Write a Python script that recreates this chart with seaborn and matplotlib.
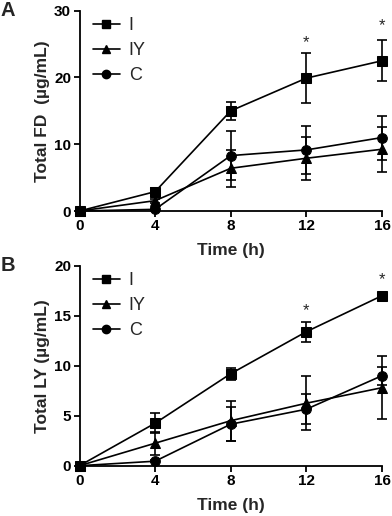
import matplotlib
matplotlib.use("Agg")
import matplotlib.pyplot as plt
import numpy as np
import pandas as pd
import seaborn as sns

# time points (h)
time = [0, 4, 8, 12, 16]

# panel A: total FD (ug/mL)
fd_i = [0, 2.9, 15.0, 19.9, 22.5]
fd_i_err = [0, 0.5, 1.4, 3.7, 3.05]
fd_iy = [0, 1.55, 6.4, 7.9, 9.25]
fd_iy_err = [0, 0.3, 2.8, 3.2, 3.4]
fd_c = [0, 0.25, 8.3, 9.15, 11.0]
fd_c_err = [0, 0.2, 3.7, 3.6, 3.3]

# panel B: total LY (ug/mL)
ly_i = [0, 4.25, 9.2, 13.4, 17.0]
ly_i_err = [0, 1.0, 0.6, 1.0, 0.1]
ly_iy = [0, 2.25, 4.5, 6.25, 7.8]
ly_iy_err = [0, 1.15, 2.0, 2.7, 3.15]
ly_c = [0, 0.45, 4.15, 5.65, 9.0]
ly_c_err = [0, 0.1, 1.7, 1.5, 0.9]

groups = ["I", "IY", "C"]
markers = {"I": "s", "IY": "^", "C": "o"}

sns.set_style("ticks")
plt.rcParams['font.family'] = ['Liberation Sans', 'DejaVu Sans']

fig = plt.figure(figsize=(3.92, 5.16), dpi=100)
ax_a = fig.add_axes([79.5 / 392, 1 - 211 / 516, 302.5 / 392, 200.3 / 516])
ax_b = fig.add_axes([79.5 / 392, 1 - 465.7 / 516, 302.5 / 392, 200 / 516])


def draw_panel(ax, vals, errs, ymax, yticks, ylabel, letter, star_y):
    df = pd.DataFrame({
        "time": time * 3,
        "value": vals[0] + vals[1] + vals[2],
        "group": ["I"] * 5 + ["IY"] * 5 + ["C"] * 5,
    })
    sns.lineplot(data=df, x="time", y="value", style="group", markers=markers,
                 dashes=False, color="black", linewidth=1.2, markersize=7,
                 markeredgecolor="black", ax=ax, legend=False, clip_on=False, zorder=3)
    for g, v, e in zip(groups, vals, errs):
        ax.errorbar(time, v, yerr=e, fmt="none", ecolor="black", elinewidth=1.2,
                    capsize=3.5, capthick=1.2, clip_on=False, zorder=2)
    # legend
    handles = [plt.Line2D([], [], color="black", marker=markers[g], markersize=6,
                          linewidth=1.2) for g in groups]
    ax.legend(handles, groups, loc="upper left", bbox_to_anchor=(-0.01, 1.05),
              frameon=False, fontsize=13, handlelength=1.5, labelspacing=0.45,
              handletextpad=0.5)
    for x, y in zip([12, 16], star_y):
        ax.text(x, y, "*", ha="center", va="center", fontsize=12)
    ax.set_xlim(0, 16)
    ax.set_ylim(0, ymax)
    ax.set_xticks([0, 4, 8, 12, 16])
    ax.set_yticks(yticks)
    ax.set_xlabel("Time (h)", fontsize=12.5, fontweight="bold", labelpad=7)
    ax.set_ylabel(ylabel, fontsize=12.5, fontweight="bold", labelpad=3)
    for lab in ax.get_xticklabels() + ax.get_yticklabels():
        lab.set_fontweight("bold")
    ax.tick_params(labelsize=11, width=1.3, length=4, pad=2, colors="black")
    sns.despine(ax=ax)
    for s in ["left", "bottom"]:
        ax.spines[s].set_linewidth(1.3)
        ax.spines[s].set_color("black")
    ax.text(-0.26, 1.0, letter, transform=ax.transAxes, fontsize=14.5,
            fontweight="bold", va="center", ha="left")


draw_panel(ax_a, [fd_i, fd_iy, fd_c], [fd_i_err, fd_iy_err, fd_c_err], 30,
           [0, 10, 20, 30], "Total FD  (\u00b5g/mL)", "A", [25.2, 27.7])
draw_panel(ax_b, [ly_i, ly_iy, ly_c], [ly_i_err, ly_iy_err, ly_c_err], 20,
           [0, 5, 10, 15, 20], "Total LY (\u00b5g/mL)", "B", [15.5, 18.6])

fig.savefig("out.png", dpi=100)
